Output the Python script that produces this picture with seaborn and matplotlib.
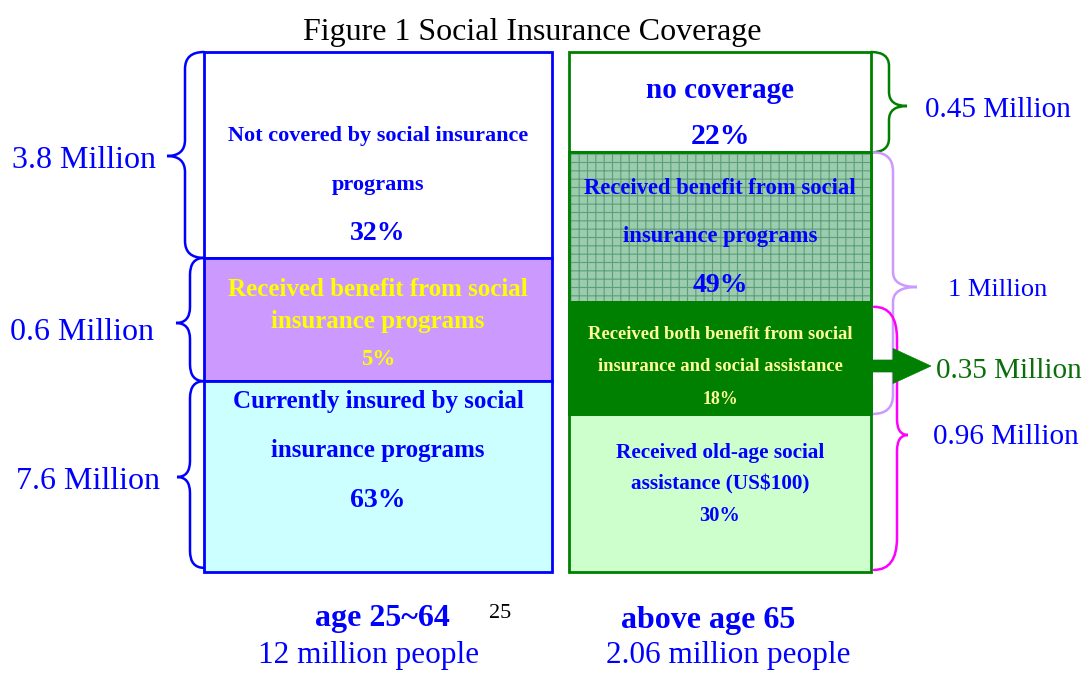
import numpy as np
import matplotlib
matplotlib.use("Agg")
import matplotlib.pyplot as plt
import seaborn as sns
from matplotlib.path import Path
from matplotlib.patches import PathPatch, Polygon

# ------------------------- data -------------------------
title = "Figure 1 Social Insurance Coverage"
groups = ["age 25~64", "above age 65"]
group_people = ["12 million people", "2.06 million people"]
page_number = "25"

left_labels = [["Not covered by social insurance", "programs"],
               ["Received benefit from social", "insurance programs"],
               ["Currently insured by social", "insurance programs"]]
left_pct = [32, 5, 63]
left_heights = [39.6, 23.7, 36.7]          # displayed share of bar height, top -> bottom
left_millions = [3.8, 0.6, 7.6]

right_labels = [["no coverage"],
                ["Received benefit from social", "insurance programs"],
                ["Received both benefit from social", "insurance and social assistance"],
                ["Received old-age social", "assistance (US$100)"]]
right_pct = [22, 49, 18, 30]
right_heights = [19.3, 28.7, 21.6, 30.4]   # displayed share of bar height, top -> bottom
right_millions = [0.45, 1, 0.35, 0.96]     # seg1, seg2+3, seg3 (arrow), seg3+4

# ------------------------- style -------------------------
sns.set_theme(style="white")
plt.rcParams['font.family'] = ['Liberation Serif', 'DejaVu Serif']
plt.rcParams['hatch.linewidth'] = 0.8

BLUE = '#0000ff'
GREEN = '#008000'
PX = 5.2                      # pixels per bar-height unit
BAR_BOT_PX = 572


def y_of(py):
    return (BAR_BOT_PX - py) / PX


fig = plt.figure(figsize=(10.9, 6.73), dpi=100)
ax = fig.add_axes([0, 0, 1, 1])
ax.set_xlim(0, 1090)
ax.set_ylim(y_of(673), y_of(0))
ax.axis('off')


def txt(x, py, s, fs, color, bold=False, z=5):
    # shift so that the visual centre of the glyphs sits at py
    ax.text(x, y_of(py + 0.18 * fs), s, ha='center', va='center', fontsize=fs,
            fontweight='bold' if bold else 'normal', color=color, zorder=z)


# ------------------------- bars -------------------------
LX, LW = 378, 348
RX, RW = 720, 302
left_h = np.array(left_heights)
right_h = np.array(right_heights)
left_bottoms = 100 - np.cumsum(left_h)
right_bottoms = 100 - np.cumsum(right_h)

left_fill = ['white', '#cc99ff', '#ccffff']
ax.bar([LX] * 3, left_h, bottom=left_bottoms, width=LW, color=left_fill,
       edgecolor=BLUE, linewidth=2.0, zorder=2)

right_fill = ['white', '#9ccbae', GREEN, '#ccffcc']
ax.bar([RX] * 4, right_h, bottom=right_bottoms, width=RW, color=right_fill,
       edgecolor=GREEN, linewidth=2.0, zorder=2)
# grid texture on the "benefit" segment
ax.bar(RX, right_h[1], bottom=right_bottoms[1], width=RW, facecolor='none',
       edgecolor='#5a9f79', linewidth=0, hatch='++', zorder=3)
ax.bar(RX, right_h[1], bottom=right_bottoms[1], width=RW, facecolor='none',
       edgecolor=GREEN, linewidth=2.0, zorder=4)
ax.bar(RX, right_h[2], bottom=right_bottoms[2], width=RW, color=GREEN,
       edgecolor=GREEN, linewidth=2.0, zorder=4)

# ------------------------- texts in bars -------------------------
left_text_py = [[133, 182, 230], [286, 318, 357], [398, 447, 497]]
left_text_size = [(16, 20), (18, 16.5), (18, 20)]
left_text_color = [BLUE, '#ffff00', BLUE]
for lines, pct, pys, (s1, s2), col in zip(left_labels, left_pct, left_text_py,
                                           left_text_size, left_text_color):
    for ln, py in zip(lines, pys[:-1]):
        txt(LX, py, ln, s1, col, bold=True)
    txt(LX, pys[-1], f"{pct}%", s2, col, bold=True)

right_text_py = [[87, 133], [186, 234, 282], [332, 364, 397], [450, 482, 513]]
right_text_size = [(21, 21.5), (16.3, 20), (13.4, 12.8), (15.3, 14.7)]
right_text_color = [BLUE, BLUE, '#ffff99', BLUE]
for lines, pct, pys, (s1, s2), col in zip(right_labels, right_pct, right_text_py,
                                           right_text_size, right_text_color):
    for ln, py in zip(lines, pys[:-1]):
        txt(RX, py, ln, s1, col, bold=True)
    txt(RX, pys[-1], f"{pct}%", s2, col, bold=True)


# ------------------------- braces -------------------------
def brace(x_edge, x_vert, x_tip, y_top, y_bot, color, tip_py=None,
          r_end=17, r_tip=16, lw=1.8, z=3):
    re, rt = r_end / PX, r_tip / PX
    ym = (y_top + y_bot) / 2 if tip_py is None else y_of(tip_py)
    verts = [(x_edge, y_top), (x_vert, y_top), (x_vert, y_top - re),
             (x_vert, ym + rt), (x_vert, ym), (x_tip, ym),
             (x_vert, ym), (x_vert, ym - rt),
             (x_vert, y_bot + re), (x_vert, y_bot), (x_edge, y_bot)]
    codes = [Path.MOVETO, Path.CURVE3, Path.CURVE3, Path.LINETO,
             Path.CURVE3, Path.CURVE3, Path.CURVE3, Path.CURVE3,
             Path.LINETO, Path.CURVE3, Path.CURVE3]
    ax.add_patch(PathPatch(Path(verts, codes), facecolor='none',
                           edgecolor=color, lw=lw, capstyle='round', zorder=z))


left_edge = LX - LW / 2
right_edge = RX + RW / 2
left_tops = left_bottoms + left_h
right_tops = right_bottoms + right_h

left_vert = [185, 190, 190]
left_tip = [167, 176, 177]
left_tip_py = [156, 323, 477]
left_label_x = [84, 82, 88]
left_label_py = [156, 328, 477]
for i in range(3):
    brace(left_edge, left_vert[i], left_tip[i], left_tops[i],
          left_bottoms[i] + (0.8 if i == 2 else 0), BLUE, tip_py=left_tip_py[i])
    txt(left_label_x[i], left_label_py[i], f"{left_millions[i]:g} Million", 23, BLUE)

# right side
brace(right_edge, 889, 907, right_tops[0], right_bottoms[0], GREEN, tip_py=106,
      r_end=14, r_tip=14)
txt(998, 106, f"{right_millions[0]:g} Million", 21, BLUE)

brace(right_edge + 2, 893, 917, right_tops[1], right_bottoms[2], '#cc99ff',
      tip_py=287, r_end=19, r_tip=15)
txt(998, 287, f"{right_millions[1]:g} Million", 19, BLUE)

brace(right_edge + 3, 897, 908, right_tops[2] - 1.0, right_bottoms[3] + 0.4,
      '#ff00ff', tip_py=435, r_end=32, r_tip=16)
txt(1006, 433, f"{right_millions[3]:g} Million", 21, BLUE)

# arrow from the "both" segment
ya = y_of(366)
half_shaft, half_head = 6 / PX, 17.5 / PX
arrow = [(right_edge, ya + half_shaft), (893, ya + half_shaft), (893, ya + half_head),
         (931, ya), (893, ya - half_head), (893, ya - half_shaft),
         (right_edge, ya - half_shaft)]
ax.add_patch(Polygon(arrow, closed=True, facecolor=GREEN, edgecolor=GREEN,
                     lw=0.5, zorder=6))
txt(1009, 367, f"{right_millions[2]:g} Million", 21, '#0a6e0a')

# ------------------------- titles & bottom labels -------------------------
txt(532, 28, title, 23, 'black')
txt(382, 614, groups[0], 23, BLUE, bold=True)
txt(708, 616, groups[1], 23, BLUE, bold=True)
txt(500, 611, page_number, 16, 'black')
txt(369, 651, group_people[0], 22.5, BLUE)
txt(728, 651, group_people[1], 22.5, BLUE)

fig.savefig("out.png", dpi=100)
